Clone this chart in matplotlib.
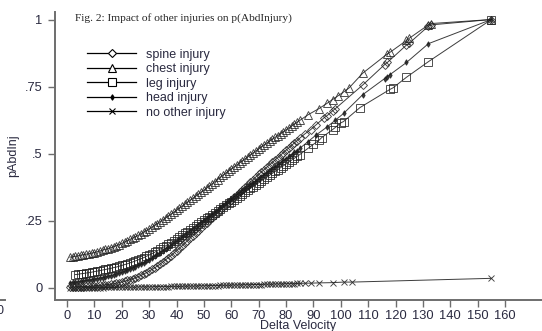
import matplotlib
matplotlib.use("Agg")
import matplotlib.pyplot as plt
from matplotlib.lines import Line2D

# ---------------- data ----------------
velocity_dense = [1, 2, 3, 4, 5, 6, 7, 8, 9, 10, 11, 12, 13, 14, 15, 16, 17, 18, 19, 20,
                  21, 22, 23, 24, 25, 26, 27, 28, 29, 30, 31, 32, 33, 34, 35, 36, 37, 38, 39, 40,
                  41, 42, 43, 44, 45, 46, 47, 48, 49, 50, 51, 52, 53, 54, 55, 56, 57, 58, 59, 60,
                  61, 62, 63, 64, 65, 66, 67, 68, 69, 70, 71, 72, 73, 74, 75, 76, 77, 78, 79, 80,
                  81, 82, 83, 84, 85]

spine_dense = [0.003, 0.003, 0.004, 0.004, 0.005, 0.005, 0.006, 0.006, 0.007, 0.008,
               0.009, 0.010, 0.011, 0.012, 0.013, 0.014, 0.016, 0.018, 0.020, 0.022,
               0.025, 0.028, 0.031, 0.034, 0.038, 0.042, 0.047, 0.052, 0.057, 0.063,
               0.069, 0.075, 0.082, 0.089, 0.097, 0.105, 0.113, 0.121, 0.130, 0.139,
               0.148, 0.157, 0.167, 0.176, 0.186, 0.195, 0.205, 0.214, 0.224, 0.233,
               0.243, 0.252, 0.262, 0.271, 0.281, 0.290, 0.300, 0.309, 0.319, 0.328,
               0.338, 0.347, 0.357, 0.366, 0.376, 0.385, 0.395, 0.404, 0.414, 0.423,
               0.432, 0.441, 0.450, 0.459, 0.468, 0.477, 0.486, 0.495, 0.504, 0.513,
               0.522, 0.531, 0.540, 0.549, 0.558]
spine_sparse_x = [87, 89, 91, 94, 95, 97, 98, 108, 116, 117, 124, 125, 132, 133, 155]
spine_sparse_y = [0.575, 0.590, 0.608, 0.635, 0.642, 0.660, 0.668, 0.756, 0.832, 0.840, 0.905, 0.912,
                  0.975, 0.980, 1.000]

chest_dense = [0.115, 0.116, 0.118, 0.120, 0.122, 0.124, 0.126, 0.128, 0.130, 0.132,
               0.135, 0.138, 0.141, 0.144, 0.147, 0.150, 0.154, 0.158, 0.162, 0.166,
               0.171, 0.176, 0.181, 0.186, 0.191, 0.196, 0.202, 0.208, 0.214, 0.220,
               0.227, 0.233, 0.240, 0.247, 0.254, 0.261, 0.268, 0.275, 0.282, 0.289,
               0.297, 0.304, 0.312, 0.319, 0.327, 0.334, 0.342, 0.349, 0.357, 0.364,
               0.372, 0.380, 0.388, 0.396, 0.404, 0.412, 0.420, 0.428, 0.436, 0.443,
               0.451, 0.458, 0.466, 0.473, 0.481, 0.488, 0.496, 0.503, 0.511, 0.518,
               0.526, 0.533, 0.540, 0.547, 0.554, 0.561, 0.568, 0.575, 0.582, 0.589,
               0.596, 0.603, 0.610, 0.617, 0.624]
chest_sparse_x = [88, 92, 95, 97, 99, 101, 103, 108, 117, 118, 124, 125, 132, 133, 155]
chest_sparse_y = [0.645, 0.668, 0.688, 0.702, 0.716, 0.730, 0.745, 0.800, 0.872, 0.878, 0.922, 0.930,
                  0.980, 0.985, 1.000]

# leg injury observations start at velocity 3
leg_dense = [0.050, 0.051, 0.053, 0.054, 0.056, 0.057, 0.059, 0.061,
             0.063, 0.065, 0.067, 0.069, 0.071, 0.073, 0.076, 0.078, 0.081, 0.084,
             0.087, 0.090, 0.094, 0.097, 0.101, 0.105, 0.109, 0.113, 0.118, 0.123,
             0.128, 0.133, 0.139, 0.145, 0.151, 0.157, 0.163, 0.169, 0.176, 0.182,
             0.189, 0.196, 0.203, 0.210, 0.217, 0.224, 0.231, 0.238, 0.245, 0.252,
             0.259, 0.266, 0.273, 0.280, 0.287, 0.294, 0.301, 0.308, 0.315, 0.322,
             0.329, 0.336, 0.343, 0.350, 0.357, 0.364, 0.371, 0.378, 0.385, 0.392,
             0.399, 0.406, 0.413, 0.420, 0.427, 0.434, 0.441, 0.448, 0.455, 0.462,
             0.469, 0.476, 0.483, 0.490, 0.497]
leg_sparse_x = [88, 90, 92, 93, 97, 98, 100, 101, 107, 118, 119, 124, 132, 155]
leg_sparse_y = [0.520, 0.535, 0.550, 0.560, 0.590, 0.598, 0.615, 0.620, 0.672, 0.740, 0.745, 0.785,
                0.843, 1.000]

head_dense = [0.020, 0.021, 0.022, 0.023, 0.025, 0.026, 0.028, 0.029, 0.031, 0.033,
              0.035, 0.037, 0.039, 0.041, 0.044, 0.046, 0.049, 0.052, 0.055, 0.058,
              0.062, 0.066, 0.070, 0.074, 0.079, 0.084, 0.089, 0.094, 0.100, 0.106,
              0.112, 0.118, 0.125, 0.132, 0.139, 0.146, 0.153, 0.160, 0.168, 0.175,
              0.183, 0.190, 0.198, 0.205, 0.213, 0.220, 0.228, 0.236, 0.244, 0.252,
              0.260, 0.268, 0.276, 0.284, 0.292, 0.300, 0.308, 0.316, 0.324, 0.332,
              0.340, 0.347, 0.355, 0.362, 0.370, 0.377, 0.385, 0.392, 0.400, 0.407,
              0.415, 0.422, 0.430, 0.437, 0.445, 0.452, 0.460, 0.467, 0.475, 0.482,
              0.490, 0.497, 0.505, 0.512, 0.520]
head_sparse_x = [88, 91, 95, 98, 101, 108, 116, 117, 118, 124, 132, 155]
head_sparse_y = [0.545, 0.570, 0.600, 0.625, 0.650, 0.720, 0.780, 0.787, 0.795, 0.840, 0.910, 1.000]

none_dense = [0.000, 0.000, 0.000, 0.000, 0.000, 0.001, 0.001, 0.001, 0.001, 0.001,
              0.001, 0.001, 0.001, 0.002, 0.002, 0.002, 0.002, 0.002, 0.002, 0.003,
              0.003, 0.003, 0.003, 0.003, 0.003, 0.004, 0.004, 0.004, 0.004, 0.004,
              0.004, 0.005, 0.005, 0.005, 0.005, 0.005, 0.005, 0.006, 0.006, 0.006,
              0.006, 0.006, 0.007, 0.007, 0.007, 0.007, 0.007, 0.008, 0.008, 0.008,
              0.008, 0.009, 0.009, 0.009, 0.009, 0.010, 0.010, 0.010, 0.010, 0.011,
              0.011, 0.011, 0.011, 0.012, 0.012, 0.012, 0.012, 0.013, 0.013, 0.013,
              0.013, 0.014, 0.014, 0.014, 0.014, 0.015, 0.015, 0.015, 0.015, 0.016,
              0.016, 0.016, 0.016, 0.017, 0.017]
none_sparse_x = [87, 89, 92, 97, 101, 104, 155]
none_sparse_y = [0.018, 0.018, 0.019, 0.020, 0.022, 0.022, 0.036]

series_labels = ["spine injury", "chest injury", "leg injury", "head injury", "no other injury"]

y_ticks = [0, 0.25, 0.5, 0.75, 1]
y_tick_labels = ["0", ".25", ".5", ".75", "1"]
x_ticks = [0, 10, 20, 30, 40, 50, 60, 70, 80, 90, 100, 110, 120, 130, 140, 150, 160]

title_text = "Fig. 2: Impact of other injuries on p(AbdInjury)"

# ---------------- figure ----------------
plt.rcParams['font.family'] = ['Liberation Sans', 'DejaVu Sans']
W, H = 542, 331
fig = plt.figure(figsize=(W / 100, H / 100), dpi=100)
ax = fig.add_axes([55 / W, 31 / H, (W - 55) / W, (300 - 12) / H])

line_col = "#1a1a1a"
series = [
    (velocity_dense, spine_dense, spine_sparse_x, spine_sparse_y, dict(marker="D", ms=3.8)),
    (velocity_dense, chest_dense, chest_sparse_x, chest_sparse_y, dict(marker="^", ms=5.6)),
    (velocity_dense[2:], leg_dense, leg_sparse_x, leg_sparse_y, dict(marker="s", ms=5.6)),
    (velocity_dense, head_dense, head_sparse_x, head_sparse_y, dict(marker="d", ms=2.8)),
    (velocity_dense, none_dense, none_sparse_x, none_sparse_y, dict(marker="x", ms=4.8)),
]

handles = []
for (xd, yd, xs, ys, mk), lab in zip(series, series_labels):
    xx = list(xd) + list(xs)
    yy = list(yd) + list(ys)
    filled = mk["marker"] in ("d", "x")
    ax.plot(xx, yy, color=line_col, lw=0.7, marker=mk["marker"], ms=mk["ms"],
            mfc=line_col if filled else "none", mec="#222222", mew=0.65, alpha=0.85)
    handles.append(Line2D([0], [0], color="black", lw=0.9, marker=mk["marker"],
                          ms=mk["ms"], mfc="black" if filled else "white",
                          mec="black", mew=0.8))

ax.set_xlim(-4.4, 173.5)
ax.set_ylim(-0.0447, 1.028)
ax.set_yticks(y_ticks)
ax.set_yticklabels(y_tick_labels)
ax.set_xticks(x_ticks)

for s in ("top", "right"):
    ax.spines[s].set_visible(False)
for s in ("left", "bottom"):
    ax.spines[s].set_color("#6e6e6e")
    ax.spines[s].set_linewidth(1.4)
ax.tick_params(axis="both", colors="#6e6e6e", length=5, width=1.0,
               labelsize=9.3, labelcolor="#2a2a40")
ax.tick_params(axis="y", pad=4)
ax.tick_params(axis="x", pad=2)

ax.set_xlabel("Delta Velocity", fontsize=9, color="#2a2a40", labelpad=-1)
ax.set_ylabel("pAbdInj", fontsize=9, color="#2a2a40", labelpad=4)

leg = ax.legend(handles, series_labels, loc="upper left", bbox_to_anchor=(0.066, 0.872),
                frameon=False, fontsize=9, handlelength=3.9, handletextpad=0.8,
                labelspacing=0.2, borderaxespad=0, borderpad=0)
for t in leg.get_texts():
    t.set_color("#2a2a40")

fig.text(75 / W, 1 - 18 / H, title_text, fontsize=8.2, family="Liberation Serif",
         color="#222222", va="center", ha="left")

# fragment of neighbouring panel at the lower-left edge
fig.text(0 / W, 1 - 311 / H, "0", fontsize=9, color="#2a2a40", va="center", ha="center")
fig.add_artist(Line2D([0, 5 / W], [1 - 300 / H, 1 - 300 / H], color="#6e6e6e", lw=1.4))

fig.savefig("out.png", dpi=100)
